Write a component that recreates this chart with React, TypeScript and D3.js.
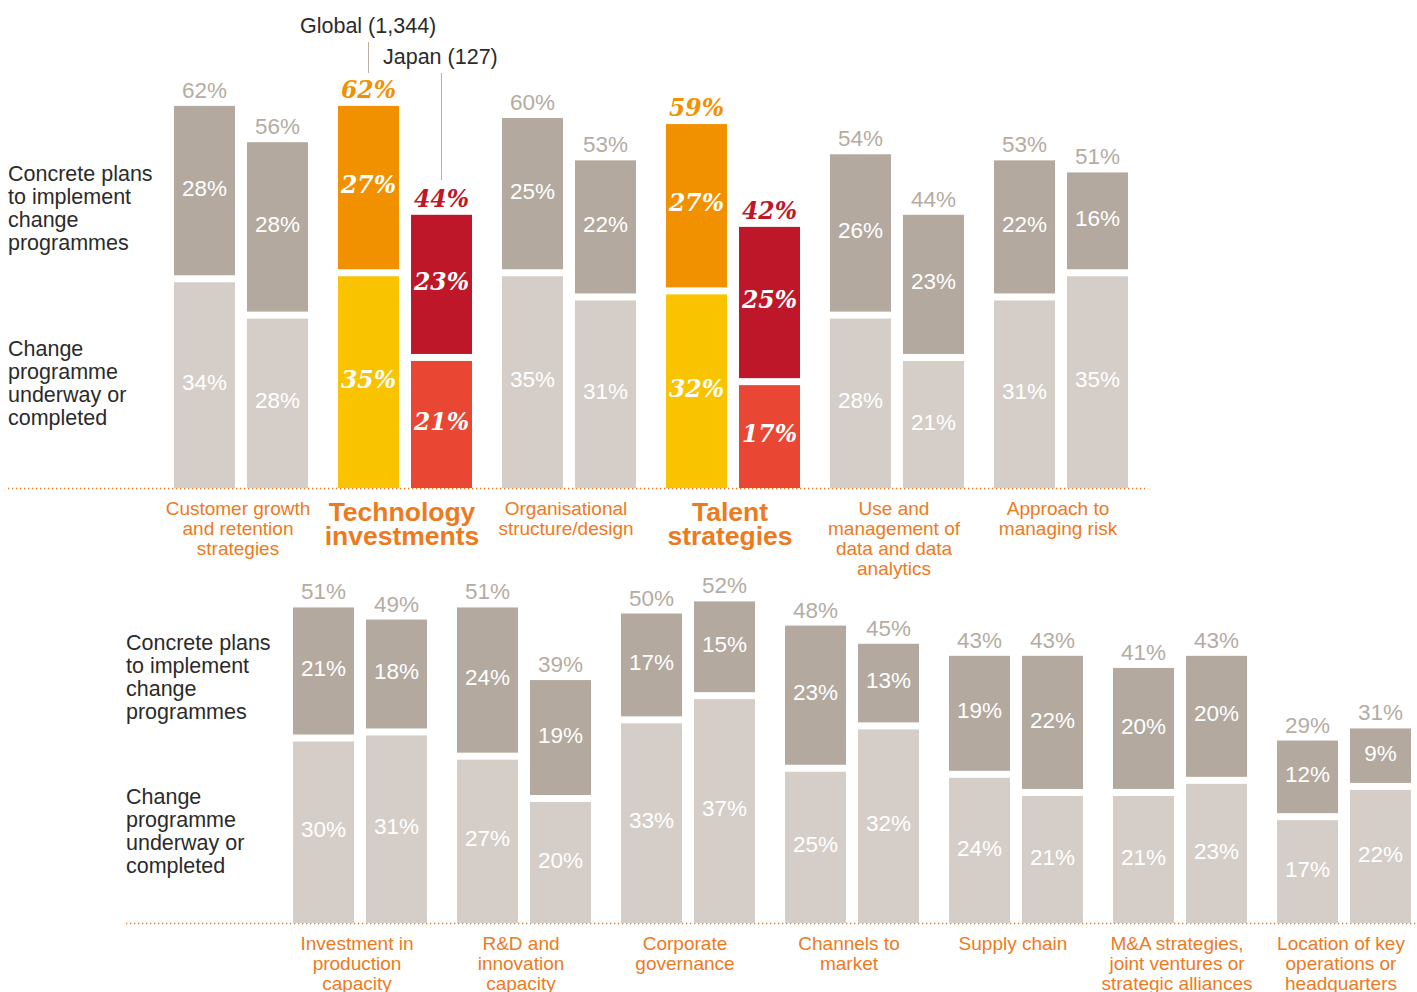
import React from "react";
import * as d3 from "d3";

const topCategories = [
  "Customer growth|and retention|strategies",
  "Technology|investments",
  "Organisational|structure/design",
  "Talent|strategies",
  "Use and|management of|data and data|analytics",
  "Approach to|managing risk",
];
const topGlobalPlans = [28, 27, 25, 27, 26, 22];
const topGlobalUnderway = [34, 35, 35, 32, 28, 31];
const topGlobalTotal = [62, 62, 60, 59, 54, 53];
const topJapanPlans = [28, 23, 22, 25, 23, 16];
const topJapanUnderway = [28, 21, 31, 17, 21, 35];
const topJapanTotal = [56, 44, 53, 42, 44, 51];
const topHighlight = [false, true, false, true, false, false];

const bottomCategories = [
  "Investment in|production|capacity",
  "R&D and|innovation|capacity",
  "Corporate|governance",
  "Channels to|market",
  "Supply chain",
  "M&A strategies,|joint ventures or|strategic alliances",
  "Location of key|operations or|headquarters",
];
const bottomGlobalPlans = [21, 24, 17, 23, 19, 20, 12];
const bottomGlobalUnderway = [30, 27, 33, 25, 24, 21, 17];
const bottomGlobalTotal = [51, 51, 50, 48, 43, 41, 29];
const bottomJapanPlans = [18, 19, 15, 13, 22, 20, 9];
const bottomJapanUnderway = [31, 20, 37, 32, 21, 23, 22];
const bottomJapanTotal = [49, 39, 52, 45, 43, 43, 31];

const seriesNames = ["Global (1,344)", "Japan (127)"];
const rowLabels = ["Concrete plans|to implement|change|programmes", "Change|programme|underway or|completed"];

const SANS = "'Liberation Sans', Arial, Helvetica, sans-serif";
const SERIF = "'DejaVu Serif', Georgia, serif";
const C = {
  darkGray: "#B3A99F",
  lightGray: "#D5CEC8",
  orange: "#F29100",
  yellow: "#F9C300",
  darkRed: "#BE1729",
  lightRed: "#E94633",
  labelGray: "#B5ACA3",
  cat: "#EE7A1E",
  text: "#2b2b2b",
};

const GAP = 7;
const PX_PER_PCT = 6.05;

type PanelProps = {
  cats: string[];
  gp: number[];
  gu: number[];
  gt: number[];
  jp: number[];
  ju: number[];
  jt: number[];
  hl: boolean[];
  x0: number;
  baseline: number;
  lineX0: number;
  lineX1: number;
};

function Panel(p: PanelProps) {
  const n = p.cats.length;
  const step = 164;
  const outer = d3
    .scaleBand<string>()
    .domain(p.cats)
    .range([p.x0, p.x0 + n * step - 30])
    .paddingInner(30 / 164)
    .paddingOuter(0);
  const inner = d3
    .scaleBand<string>()
    .domain(["Global", "Japan"])
    .range([0, outer.bandwidth()])
    .paddingInner(12 / 73)
    .paddingOuter(0);
  const h = d3.scaleLinear().domain([0, 100]).range([0, 100 * PX_PER_PCT]);
  const bw = inner.bandwidth();

  return (
    <g>
      <line
        x1={p.lineX0}
        x2={p.lineX1}
        y1={p.baseline + 0.5}
        y2={p.baseline + 0.5}
        stroke={C.cat}
        strokeWidth={1.3}
        strokeDasharray="1.3,2.7"
      />
      {p.cats.map((cat, i) => {
        const gx = outer(cat)!;
        const hl = p.hl[i];
        const bars = [
          { key: "Global", plans: p.gp[i], under: p.gu[i], total: p.gt[i], cPlan: hl ? C.orange : C.darkGray, cUnder: hl ? C.yellow : C.lightGray, cTot: hl ? C.orange : C.labelGray },
          { key: "Japan", plans: p.jp[i], under: p.ju[i], total: p.jt[i], cPlan: hl ? C.darkRed : C.darkGray, cUnder: hl ? C.lightRed : C.lightGray, cTot: hl ? C.darkRed : C.labelGray },
        ];
        const lines = cat.split("|");
        const cx = gx + outer.bandwidth() / 2 - 3;
        return (
          <g key={cat}>
            {bars.map((b) => {
              const x = gx + inner(b.key)!;
              const uH = h(b.under);
              const pH = h(b.plans);
              const uTop = p.baseline - uH;
              const pBottom = uTop - GAP;
              const pTop = pBottom - pH;
              const fam = hl ? SERIF : SANS;
              const fw = hl ? "bold" : "normal";
              const fs = hl ? "italic" : "normal";
              const size = hl ? 23.5 : 22.5;
              return (
                <g key={b.key}>
                  <rect x={x} y={uTop} width={bw} height={uH} fill={b.cUnder} />
                  <rect x={x} y={pTop} width={bw} height={pH} fill={b.cPlan} />
                  <text x={x + bw / 2} y={uTop + uH / 2 - 3} dy="0.36em" textAnchor="middle" fill="#fff" fontFamily={fam} fontWeight={fw} fontStyle={fs} fontSize={size}>
                    {b.under}%
                  </text>
                  <text x={x + bw / 2} y={pTop + pH / 2 - 3} dy="0.36em" textAnchor="middle" fill="#fff" fontFamily={fam} fontWeight={fw} fontStyle={fs} fontSize={size}>
                    {b.plans}%
                  </text>
                  <text x={x + bw / 2} y={pTop - 8} textAnchor="middle" fill={b.cTot} fontFamily={fam} fontWeight={fw} fontStyle={fs} fontSize={size}>
                    {b.total}%
                  </text>
                </g>
              );
            })}
            {hl
              ? lines.map((l, k) => (
                  <text key={k} x={cx} y={p.baseline + 33 + k * 24} textAnchor="middle" fill={C.cat} fontFamily={SANS} fontWeight="bold" fontSize={26.5}>
                    {l}
                  </text>
                ))
              : lines.map((l, k) => (
                  <text key={k} x={cx} y={p.baseline + 27 + k * 20} textAnchor="middle" fill={C.cat} fontFamily={SANS} fontSize={19}>
                    {l}
                  </text>
                ))}
          </g>
        );
      })}
    </g>
  );
}

function RowLabels({ x, y1, y2 }: { x: number; y1: number; y2: number }) {
  return (
    <g fontFamily={SANS} fontSize={21.5} fill={C.text}>
      {rowLabels[0].split("|").map((l, k) => (
        <text key={"a" + k} x={x} y={y1 + k * 23}>
          {l}
        </text>
      ))}
      {rowLabels[1].split("|").map((l, k) => (
        <text key={"b" + k} x={x} y={y2 + k * 23}>
          {l}
        </text>
      ))}
    </g>
  );
}

export default function App() {
  return (
    <svg width={1417} height={992} style={{ position: "absolute", left: 0, top: 0, background: "#fff" }}>
      <RowLabels x={8} y1={181} y2={356} />
      <RowLabels x={126} y1={650} y2={804} />
      <Panel
        cats={topCategories}
        gp={topGlobalPlans}
        gu={topGlobalUnderway}
        gt={topGlobalTotal}
        jp={topJapanPlans}
        ju={topJapanUnderway}
        jt={topJapanTotal}
        hl={topHighlight}
        x0={174}
        baseline={488}
        lineX0={8}
        lineX1={1145}
      />
      <Panel
        cats={bottomCategories}
        gp={bottomGlobalPlans}
        gu={bottomGlobalUnderway}
        gt={bottomGlobalTotal}
        jp={bottomJapanPlans}
        ju={bottomJapanUnderway}
        jt={bottomJapanTotal}
        hl={bottomCategories.map(() => false)}
        x0={293}
        baseline={923}
        lineX0={126}
        lineX1={1417}
      />
      <g fontFamily={SANS} fontSize={21.5} fill={C.text}>
        <text x={300} y={33}>{seriesNames[0]}</text>
        <text x={383} y={64}>{seriesNames[1]}</text>
      </g>
      <line x1={368.5} x2={368.5} y1={42} y2={73} stroke="#b9b0a8" strokeWidth={1} />
      <line x1={441.5} x2={441.5} y1={73} y2={180} stroke="#b9b0a8" strokeWidth={1} />
    </svg>
  );
}
